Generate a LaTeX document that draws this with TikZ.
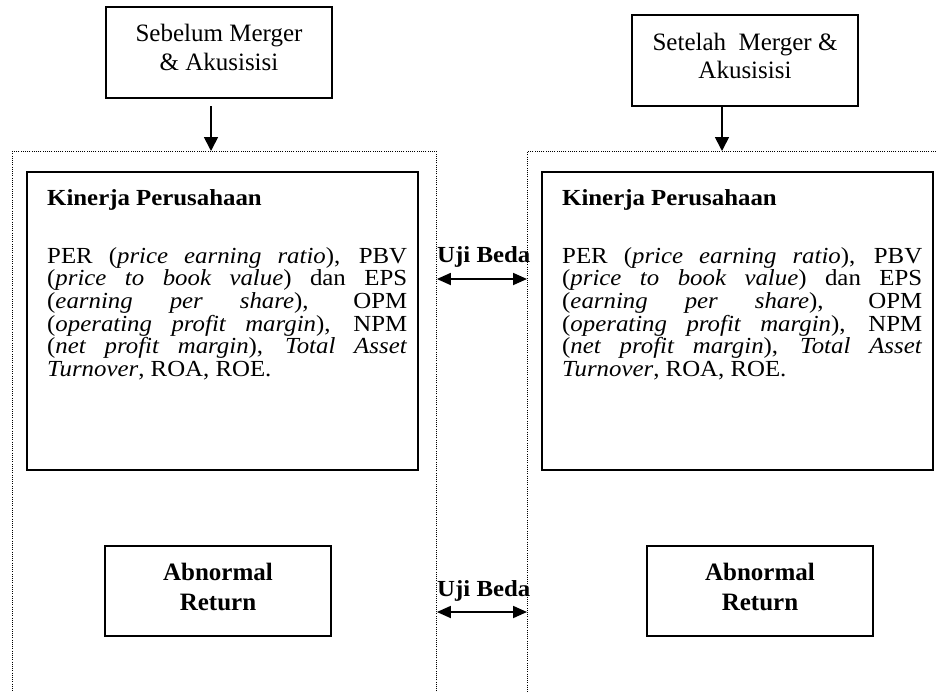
\documentclass[tikz,border=0pt]{standalone}
\usepackage{fontspec}
\setmainfont{Liberation Serif}
\newfontfamily\stretchfont{Liberation Serif}[FakeStretch=1.08]
\usetikzlibrary{arrows.meta}
\begin{document}
\begin{tikzpicture}[x=1pt,y=-1pt,
  box/.style={draw, line width=1.7pt, inner sep=0pt},
  frame/.style={draw, line width=0.9pt, dash pattern=on 0.9pt off 1.3pt, inner sep=0pt},
  arr/.style={line width=1.7pt, -{Triangle[length=14pt,width=14pt]}},
  darr/.style={line width=1.8pt, {Triangle[length=14pt,width=12pt]}-{Triangle[length=14pt,width=12pt]}},
  boxtext/.style={font=\fontsize{25}{28.5}\selectfont, align=center, inner sep=0pt},
  boldtext/.style={font=\bfseries\fontsize{25}{30}\selectfont, align=center, inner sep=0pt},
  titletext/.style={font=\stretchfont\bfseries\fontsize{23}{22.7}\selectfont, inner sep=0pt, anchor=west},
  bodytext/.style={font=\stretchfont\fontsize{23}{22.7}\selectfont, inner sep=0pt, anchor=north west, text width=360pt, align=justify},
  ujitext/.style={font=\stretchfont\bfseries\fontsize{23}{22.7}\selectfont, inner sep=0pt, anchor=west}
]
\useasboundingbox (0,0) rectangle (937,691);

% dotted frames
\node[frame, anchor=north west, minimum width=424pt, minimum height=580pt] (leftframe) at (12,151) {};
\node[frame, anchor=north west, minimum width=440pt, minimum height=580pt] (rightframe) at (527,151) {};

% top boxes
\node[box, minimum width=226pt, minimum height=91pt] (sebelum) at (219,52.5) {};
\node[boxtext] (sebelumtext) at (219,47.5) {Sebelum Merger\\\& Akusisisi};
\node[box, minimum width=226pt, minimum height=91pt] (setelah) at (745,60.5) {};
\node[boxtext] (setelahtext) at (745,56) {Setelah\ \ Merger \&\\Akusisisi};

% arrows down
\coordinate (a1) at (211,106);
\draw[arr] (a1) -- (a1 |- leftframe.north);
\coordinate (a2) at (722,106);
\draw[arr] (a2) -- (a2 |- rightframe.north);

% inner boxes
\node[box, minimum width=391pt, minimum height=298pt] (kleft) at (222.5,321) {};
\node[box, minimum width=391pt, minimum height=298pt] (kright) at (737.5,321) {};

\node[titletext] (kltitle) at (47,200) {Kinerja Perusahaan};
\node[bodytext] (klbody) at (47,247) {\tolerance=10000 PER (\textit{price earning ratio}), PBV\linebreak (\textit{price to book value}) dan EPS\linebreak (\textit{earning per share}), OPM\linebreak (\textit{operating profit margin}), NPM\linebreak (\textit{net profit margin}), \textit{Total Asset}\linebreak \textit{Turnover}, ROA, ROE.};

\node[titletext] (krtitle) at (562,200) {Kinerja Perusahaan};
\node[bodytext] (krbody) at (562,247) {\tolerance=10000 PER (\textit{price earning ratio}), PBV\linebreak (\textit{price to book value}) dan EPS\linebreak (\textit{earning per share}), OPM\linebreak (\textit{operating profit margin}), NPM\linebreak (\textit{net profit margin}), \textit{Total Asset}\linebreak \textit{Turnover}, ROA, ROE.};

% abnormal return boxes
\node[box, minimum width=226pt, minimum height=90pt] (arleft) at (218,591) {};
\node[boldtext] (arlefttext) at (218,587) {Abnormal\\Return};
\node[box, minimum width=226pt, minimum height=90pt] (arright) at (760,591) {};
\node[boldtext] (arrighttext) at (760,587) {Abnormal\\Return};

% uji beda
\node[ujitext] (uji1) at (437,257) {Uji Beda};
\coordinate (u1) at (0,279);
\draw[darr] (leftframe.north east |- u1) -- (rightframe.north west |- u1);
\node[ujitext] (uji2) at (437,591) {Uji Beda};
\coordinate (u2) at (0,612);
\draw[darr] (leftframe.north east |- u2) -- (rightframe.north west |- u2);
\end{tikzpicture}
\end{document}
